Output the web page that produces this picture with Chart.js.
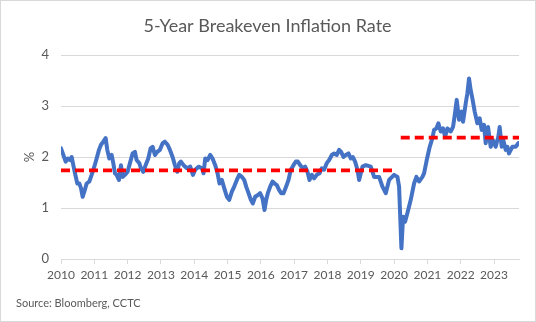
<!DOCTYPE html>
<html>
<head>
<meta charset="utf-8">
<script src="https://cdn.jsdelivr.net/npm/chart.js@4.4.0/dist/chart.umd.min.js"></script>
<style>
  html, body { margin: 0; padding: 0; background: #fff; }
  #wrap { width: 536px; height: 322px; box-sizing: border-box; border: 1px solid #d9d9d9; }
  canvas { display: block; }
</style>
</head>
<body>
<div id="wrap"><canvas id="chart" width="534" height="320"></canvas></div>
<script>
// 5-year breakeven (year fraction, %)
const dates = [
  2010.00, 2010.07, 2010.14, 2010.20, 2010.27, 2010.32, 2010.37, 2010.42, 2010.49, 2010.55,
  2010.60, 2010.65, 2010.70, 2010.77, 2010.85, 2010.92, 2011.00, 2011.07, 2011.14, 2011.20,
  2011.27, 2011.34, 2011.39, 2011.45, 2011.52, 2011.57, 2011.62, 2011.67, 2011.74, 2011.80,
  2011.85, 2011.92, 2012.00, 2012.07, 2012.15, 2012.22, 2012.27, 2012.35, 2012.40, 2012.47,
  2012.54, 2012.62, 2012.69, 2012.75, 2012.82, 2012.89, 2012.97, 2013.05, 2013.12, 2013.20,
  2013.27, 2013.35, 2013.42, 2013.49, 2013.55, 2013.60, 2013.68, 2013.78, 2013.88, 2013.96,
  2014.03, 2014.13, 2014.23, 2014.28, 2014.33, 2014.40, 2014.48, 2014.55, 2014.63, 2014.70,
  2014.76, 2014.83, 2014.90, 2014.98, 2015.05, 2015.13, 2015.20, 2015.28, 2015.35, 2015.43,
  2015.50, 2015.56, 2015.63, 2015.70, 2015.76, 2015.83, 2015.90, 2015.98, 2016.05, 2016.11,
  2016.16, 2016.21, 2016.28, 2016.35, 2016.41, 2016.48, 2016.55, 2016.61, 2016.68, 2016.76,
  2016.83, 2016.90, 2016.98, 2017.05, 2017.11, 2017.18, 2017.26, 2017.33, 2017.40, 2017.46,
  2017.53, 2017.60, 2017.68, 2017.76, 2017.83, 2017.90, 2017.98, 2018.05, 2018.13, 2018.20,
  2018.28, 2018.35, 2018.41, 2018.48, 2018.55, 2018.63, 2018.70, 2018.76, 2018.83, 2018.90,
  2018.95, 2019.05, 2019.15, 2019.30, 2019.40, 2019.55, 2019.65, 2019.75, 2019.85, 2020.00,
  2020.10, 2020.15, 2020.22, 2020.27, 2020.33, 2020.40, 2020.50, 2020.60, 2020.67, 2020.75,
  2020.85, 2020.90, 2020.98, 2021.07, 2021.15, 2021.20, 2021.27, 2021.33, 2021.40, 2021.47,
  2021.53, 2021.60, 2021.70, 2021.77, 2021.83, 2021.88, 2021.95, 2022.03, 2022.07, 2022.15,
  2022.20, 2022.25, 2022.30, 2022.35, 2022.42, 2022.50, 2022.57, 2022.63, 2022.70, 2022.75,
  2022.82, 2022.90, 2022.97, 2023.05, 2023.13, 2023.17, 2023.23, 2023.28, 2023.35, 2023.40,
  2023.45, 2023.55, 2023.65, 2023.73
];
const rates = [
  2.17, 2.04, 1.91, 1.97, 1.94, 2.00, 1.84, 1.68, 1.48, 1.48,
  1.39, 1.22, 1.32, 1.48, 1.52, 1.65, 1.81, 1.97, 2.14, 2.24,
  2.30, 2.37, 2.14, 1.97, 2.04, 1.88, 1.68, 1.65, 1.55, 1.84,
  1.61, 1.65, 1.71, 1.88, 2.07, 2.10, 1.94, 1.88, 1.78, 1.71,
  1.84, 1.97, 2.17, 2.20, 2.04, 2.10, 2.14, 2.27, 2.30, 2.24,
  2.14, 2.00, 1.84, 1.71, 1.88, 1.91, 1.84, 1.78, 1.81, 1.65,
  1.75, 1.81, 1.78, 1.68, 1.97, 1.94, 2.04, 1.97, 1.84, 1.68,
  1.48, 1.55, 1.39, 1.22, 1.16, 1.32, 1.42, 1.55, 1.65, 1.61,
  1.55, 1.42, 1.29, 1.16, 1.09, 1.22, 1.25, 1.29, 1.19, 0.96,
  1.16, 1.29, 1.42, 1.52, 1.48, 1.45, 1.35, 1.29, 1.29, 1.42,
  1.55, 1.75, 1.84, 1.91, 1.91, 1.84, 1.78, 1.81, 1.71, 1.55,
  1.65, 1.58, 1.65, 1.68, 1.78, 1.75, 1.88, 1.94, 2.04, 2.07,
  2.04, 2.14, 2.10, 2.00, 2.04, 2.07, 1.97, 2.00, 1.91, 1.75,
  1.55, 1.81, 1.84, 1.81, 1.61, 1.61, 1.42, 1.29, 1.55, 1.65,
  1.61, 1.42, 0.21, 0.83, 0.73, 0.90, 1.16, 1.48, 1.61, 1.52,
  1.61, 1.68, 1.94, 2.20, 2.37, 2.53, 2.56, 2.66, 2.50, 2.56,
  2.40, 2.56, 2.50, 2.59, 2.86, 3.12, 2.73, 2.89, 2.69, 3.05,
  3.25, 3.54, 3.31, 3.15, 2.89, 2.66, 2.76, 2.53, 2.63, 2.27,
  2.59, 2.20, 2.33, 2.20, 2.40, 2.59, 2.20, 2.33, 2.14, 2.20,
  2.07, 2.20, 2.20, 2.27
];

// average levels, before and after covid
const preAvgDates = [2010, 2020.02];
const preAvg = [1.74, 1.74];
const postAvgDates = [2020.2, 2023.75];
const postAvg = [2.38, 2.38];

const toPoints = (xs, ys) => xs.map((x, i) => ({ x: x, y: ys[i] }));

Chart.defaults.font.family = 'Lato, "Open Sans", sans-serif';
Chart.defaults.color = '#595959';

const ctx = document.getElementById('chart').getContext('2d');
new Chart(ctx, {
  type: 'line',
  data: {
    datasets: [
      {
        label: 'Pre-2020 average',
        data: toPoints(preAvgDates, preAvg),
        borderColor: '#ff0000',
        borderWidth: 3.75,
        borderDash: [9, 5],
        pointRadius: 0,
        order: 0
      },
      {
        label: 'Post-2020 average',
        data: toPoints(postAvgDates, postAvg),
        borderColor: '#ff0000',
        borderWidth: 3.75,
        borderDash: [9, 5],
        pointRadius: 0,
        order: 0
      },
      {
        label: '5-Year Breakeven',
        data: toPoints(dates, rates),
        borderColor: '#4472c4',
        borderWidth: 4,
        borderJoinStyle: 'round',
        borderCapStyle: 'round',
        pointRadius: 0,
        tension: 0,
        order: 1
      }
    ]
  },
  options: {
    responsive: false,
    animation: false,
    layout: { padding: { left: 15, right: 16, top: 0, bottom: 0 } },
    plugins: {
      legend: { display: false },
      tooltip: { enabled: false },
      title: {
        display: true,
        text: '5-Year Breakeven Inflation Rate',
        color: '#595959',
        font: { size: 18, weight: 'normal' },
        padding: { top: 14, bottom: 18.4 }
      },
      subtitle: {
        display: true,
        position: 'bottom',
        align: 'start',
        text: 'Source: Bloomberg, CCTC',
        color: '#595959',
        font: { size: 11 },
        padding: { top: 8, bottom: 11.4 }
      }
    },
    scales: {
      x: {
        type: 'linear',
        min: 2010,
        max: 2023.75,
        grid: { drawOnChartArea: false, drawTicks: true, tickLength: 5, color: '#d9d9d9' },
        border: { display: true, color: '#d9d9d9' },
        ticks: {
          stepSize: 1,
          includeBounds: false,
          autoSkip: false,
          maxRotation: 0,
          padding: 4,
          font: { size: 12 },
          callback: v => String(v)
        },
        afterFit: s => { s.height = 29.4; }
      },
      y: {
        min: 0,
        max: 4,
        grid: { color: '#d9d9d9', drawTicks: false },
        border: { display: false },
        ticks: { stepSize: 1, padding: 12, font: { size: 13 } },
        title: { display: true, text: '%', font: { size: 13 }, padding: { top: 6, bottom: 0 } },
        afterFit: s => { s.width = 45; }
      }
    }
  }
});
</script>
</body>
</html>
